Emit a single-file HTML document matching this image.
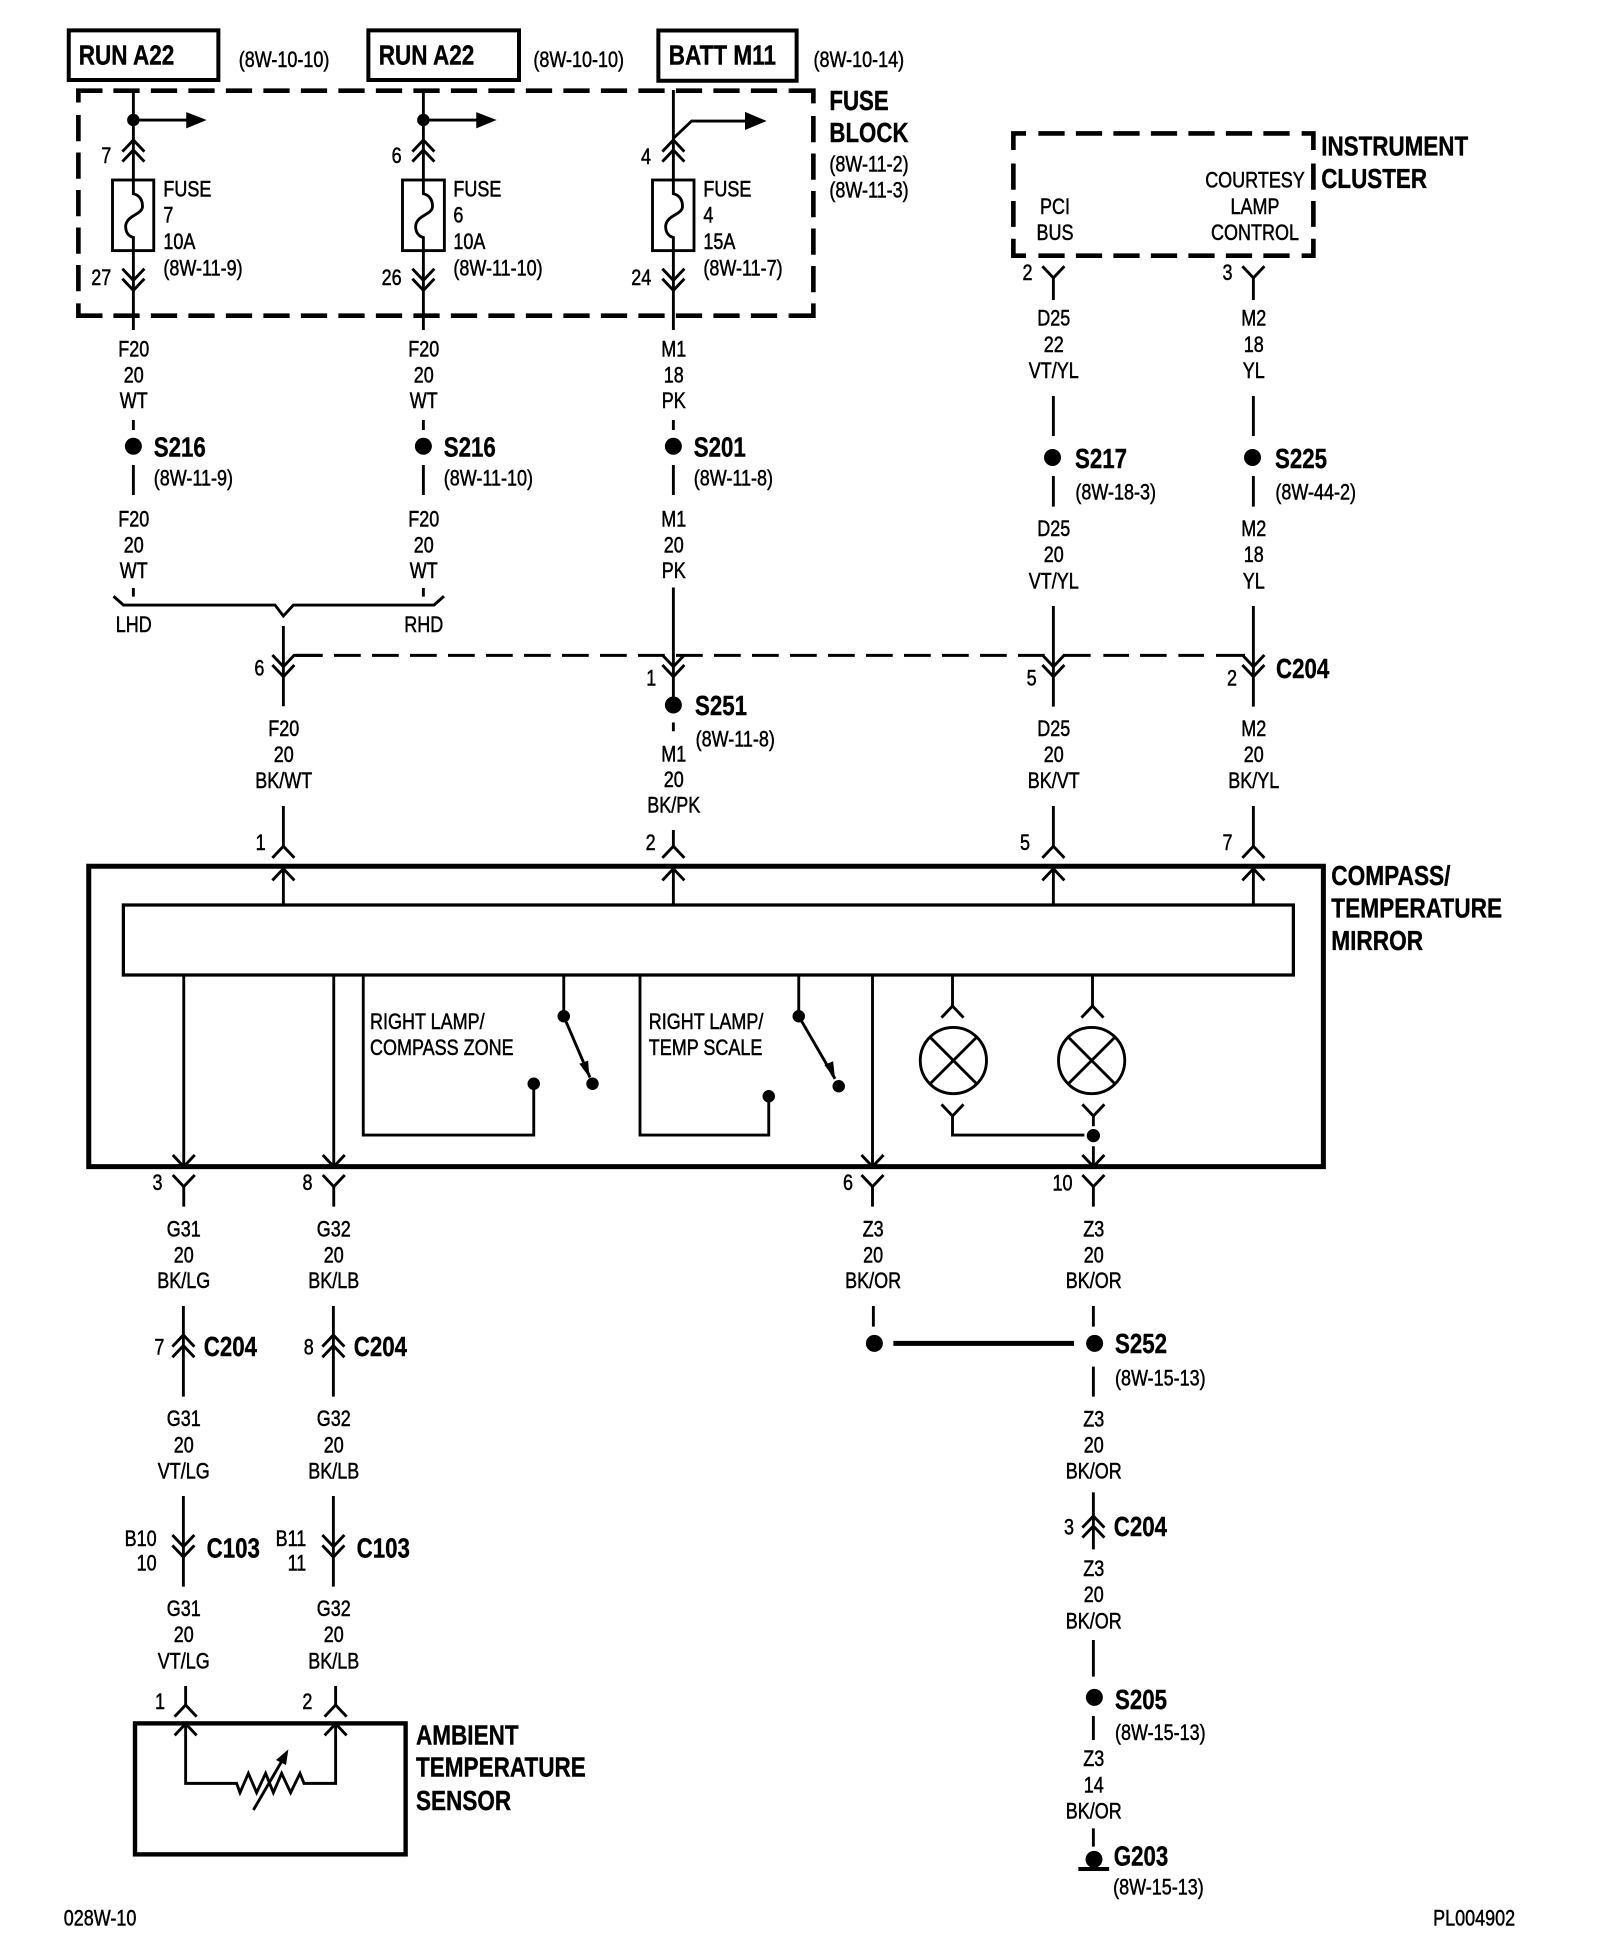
<!DOCTYPE html>
<html>
<head>
<meta charset="utf-8">
<title>Wiring diagram 028W-10</title>
<style>
html,body{margin:0;padding:0;background:#fff;}
svg{display:block;}
text{font-family:"Liberation Sans",Arial,sans-serif;font-size:18px;fill:#000;stroke:#000;stroke-width:.4px;}
.b{font-weight:bold;font-size:22px;stroke-width:.3px;}
.m{text-anchor:middle;}
.e{text-anchor:end;}
.w path,.w use,.w rect,.w circle{fill:none;stroke:#000;stroke-width:2.3;}
.f{fill:#000;stroke:none;}
</style>
</head>
<body>
<svg xmlns="http://www.w3.org/2000/svg" width="1600" height="1960" viewBox="0 0 1280 1568">
<defs>
<path id="u" d="M-8.8 9.3L0 0L8.8 9.3"/>
<path id="d" d="M-8.8 0L0 9.3L8.8 0"/>
</defs>
<rect width="1280" height="1568" fill="#fff"/>
<g class="w">
<!-- source boxes -->
<rect x="55" y="24.3" width="119.7" height="39.7" style="stroke-width:3.2"/>
<rect x="294.7" y="24.3" width="120.5" height="39.7" style="stroke-width:3.2"/>
<rect x="526.7" y="24.4" width="110.6" height="40.2" style="stroke-width:3.2"/>
<!-- fuse block dashed -->
<path style="stroke-width:3.7" d="M62.7 82V72.5H82M631.3 72.5H650.7V82.7M650.7 242.7V252.5H631.3M82 252.5H62.7V242.7"/>
<path style="stroke-width:3.7" stroke-dasharray="21 9" d="M90.7 72.5H631M90.7 252.5H631M62.7 92V242M650.7 92.8V243"/>
<!-- cluster dashed -->
<path style="stroke-width:3.7" d="M820.8 106.7H810.7V120M810.7 191V204.5H820.8M1041.3 106.7H1050.7V120M1050.7 191V204.5H1041.3"/>
<path style="stroke-width:3.7" stroke-dasharray="21 9" d="M830.7 106.7H1032M830.7 204.5H1032M810.7 130.8V181.5M1050.7 130.8V181.5"/>
<!-- fuse columns -->
<path d="M106.7 72V264M338.7 72V264M538.7 72V264"/>
<path d="M106.7 96H150M338.7 96H382M538.7 110.7L553.3 96.8H597"/>
<rect x="90" y="144" width="33" height="56.5" fill="#fff" style="fill:#fff"/>
<rect x="322" y="144" width="33.5" height="56.5" style="fill:#fff"/>
<rect x="522" y="144" width="33.2" height="56.5" style="fill:#fff"/>
<path d="M106.7 144V155C111.5 156 114 160 114 165C114 172 101 172 100.5 181C100.5 186 103 189 106.7 190V200"/>
<path d="M338.7 144V155C343.5 156 346 160 346 165C346 172 333 172 332.5 181C332.5 186 335 189 338.7 190V200"/>
<path d="M538.7 144V155C543.5 156 546 160 546 165C546 172 533 172 532.5 181C532.5 186 535 189 538.7 190V200"/>
<use href="#u" x="106.7" y="112"/><use href="#u" x="106.7" y="120"/>
<use href="#u" x="338.7" y="112"/><use href="#u" x="338.7" y="120"/>
<use href="#u" x="538.7" y="112"/><use href="#u" x="538.7" y="120"/>
<use href="#d" x="106.7" y="215"/><use href="#d" x="106.7" y="223"/>
<use href="#d" x="338.7" y="215"/><use href="#d" x="338.7" y="223"/>
<use href="#d" x="538.7" y="215"/><use href="#d" x="538.7" y="223"/>
<!-- splice wires upper -->
<path d="M106.7 336V344M106.7 372V396M338.7 336V344M338.7 372V396M538.7 336V344M538.7 372V396"/>
<path d="M106.7 470.4V477.3M338.7 470.4V477.3"/>
<path d="M90.8 477L98.7 484H220L226.7 492.8L234.7 484H347.2L355.2 477"/>
<path d="M226.7 500.8V565M538.7 470V565M842.7 484.8V565.3M1002.7 484.8V565.3"/>
<path stroke-dasharray="21.4 9" d="M236.8 524.3H836"/>
<path d="M234.7 524.3H258M850.7 524.3H872.5M882.7 524.3H903.2M912 524.3H933.3M942.7 524.3H963.2M972.8 524.3H996"/>
<use href="#d" x="226.7" y="524"/><use href="#d" x="226.7" y="532"/>
<use href="#d" x="538.7" y="524"/><use href="#d" x="538.7" y="532"/>
<use href="#d" x="842.7" y="524"/><use href="#d" x="842.7" y="532"/>
<use href="#d" x="1002.7" y="524"/><use href="#d" x="1002.7" y="532"/>
<path d="M538.7 578V585"/>
<!-- cluster wires -->
<use href="#d" x="842.7" y="213"/><use href="#d" x="1002.7" y="213"/>
<path d="M842.7 222V240M1002.7 222V240M842.7 316.8V348.8M1002.7 316.8V348.8M842.7 380.8V405.3M1002.7 380.8V405.3"/>
<!-- compass connectors top -->
<path d="M226.7 644.8V677M538.7 664V677M842.7 644.8V677M1002.7 644.8V677"/>
<use href="#u" x="226.7" y="677"/><use href="#u" x="538.7" y="677"/><use href="#u" x="842.7" y="677"/><use href="#u" x="1002.7" y="677"/>
<use href="#u" x="226.7" y="695"/><use href="#u" x="538.7" y="695"/><use href="#u" x="842.7" y="695"/><use href="#u" x="1002.7" y="695"/>
<path d="M226.7 695V724M538.7 695V724M842.7 695V724M1002.7 695V724"/>
<!-- compass box -->
<rect x="71" y="693" width="987.7" height="240.3" style="stroke-width:4"/>
<rect x="98.7" y="724" width="936" height="56" style="stroke-width:2.6"/>
<path d="M147 780V933M267 780V933M698 780V933"/>
<path d="M290.6 780V908H427V867M512 780V908H615V877M451 780V813M639 780V813M451 813L472 862M639 813L668 863"/>
<use href="#d" x="147" y="924"/><use href="#d" x="267" y="924"/><use href="#d" x="698" y="924"/><use href="#d" x="874.7" y="924"/>
<use href="#d" x="147" y="940"/><use href="#d" x="267" y="940"/><use href="#d" x="698" y="940"/><use href="#d" x="874.7" y="940"/>
<path d="M147 949V965.3M267 949V965.3M698 949V965.3M874.7 949V965.3M874.7 917V933"/>
<!-- lamps -->
<path d="M762 780V805M874 780V805M762 893V908H867.5M874.7 893V901"/>
<use href="#u" x="762" y="804.8"/><use href="#u" x="874" y="804.8"/>
<use href="#d" x="762" y="883.5"/><use href="#d" x="874.7" y="883.5"/>
<circle cx="762.7" cy="848.4" r="26.5"/>
<circle cx="873.3" cy="848.4" r="26.5"/>
<path d="M743.7 829.4L781.7 867.4M781.7 829.4L743.7 867.4M854.3 829.4L892.3 867.4M892.3 829.4L854.3 867.4"/>
<!-- lower left -->
<path d="M146.7 1044.8V1117.3M266.7 1044.8V1117.3M146.7 1196.8V1269.3M266.7 1196.8V1269.3"/>
<use href="#u" x="146.7" y="1068"/><use href="#u" x="146.7" y="1076.5"/>
<use href="#u" x="266.7" y="1068"/><use href="#u" x="266.7" y="1076.5"/>
<use href="#d" x="146.7" y="1228"/><use href="#d" x="146.7" y="1236.3"/>
<use href="#d" x="266.7" y="1228"/><use href="#d" x="266.7" y="1236.3"/>
<!-- sensor -->
<path d="M148.5 1348.8V1364M268.5 1348.8V1364"/>
<use href="#u" x="148.5" y="1364"/><use href="#u" x="268.5" y="1364"/>
<use href="#u" x="148.5" y="1379"/><use href="#u" x="268.5" y="1379"/>
<rect x="108" y="1378.7" width="216.5" height="104.8" style="stroke-width:3.5"/>
<path d="M148.5 1379V1426.7H189.3L192 1434.1L198.7 1418.7L205.3 1434.1L212.5 1418.7L218.7 1434.1L225.3 1418.7L232.5 1434.1L240 1418.7L243.2 1426.7H268.5V1379"/>
<path d="M202.7 1448L226 1408"/>
<!-- lower right -->
<path d="M698.7 1044.8V1061.3M874.7 1044.8V1061.3M874.7 1093.3V1117.3M874.7 1193.9V1239.5M874.7 1312V1341.3M874.7 1372.8V1392M874.7 1462.7V1477.3"/>
<path style="stroke-width:4" d="M714.7 1074.7H859.2"/>
<use href="#u" x="874.7" y="1212.8"/><use href="#u" x="874.7" y="1220.8"/>
<path style="stroke-width:3.2" d="M862.7 1495.2H887.3"/>
</g>
<!-- dots and arrowheads -->
<g class="f">
<circle cx="106.7" cy="96" r="5"/><circle cx="338.7" cy="96" r="5"/>
<polygon points="149,89.7 165.3,96 149,102.7"/>
<polygon points="381,89.7 397.3,96 381,102.7"/>
<polygon points="596,89.5 613.3,96.8 596,104"/>
<circle cx="106.7" cy="357" r="6.8"/><circle cx="338.7" cy="357" r="6.8"/><circle cx="538.7" cy="357" r="6.8"/>
<circle cx="842" cy="366" r="6.8"/><circle cx="1002" cy="366" r="6.8"/>
<circle cx="538.7" cy="564" r="6.8"/>
<circle cx="427" cy="867" r="5"/><circle cx="615" cy="877" r="5"/>
<circle cx="451" cy="813" r="5"/><circle cx="474" cy="867" r="5"/>
<circle cx="639" cy="813" r="5"/><circle cx="671" cy="869" r="5"/>
<polygon points="471.5,862 463.5,851 470.5,848.5"/>
<polygon points="668,863 659.5,852 666.5,849"/>
<circle cx="874.7" cy="908.5" r="5.3"/>
<circle cx="699.5" cy="1074.7" r="6.8"/><circle cx="875.7" cy="1074.7" r="6.8"/>
<circle cx="875.5" cy="1357.9" r="6.8"/>
<circle cx="875.2" cy="1487.5" r="6.8"/>
<polygon points="230.7,1399.5 220.8,1408 228.8,1412"/>
</g>
<!-- bold labels -->
<g>
<text class="b" transform="translate(63 51.5) scale(.82 1)">RUN A22</text>
<text class="b" transform="translate(303 51.5) scale(.82 1)">RUN A22</text>
<text class="b" transform="translate(535 51.5) scale(.82 1)">BATT M11</text>
<text class="b" transform="translate(663.5 88) scale(.81 1)">FUSE</text>
<text class="b" transform="translate(663.5 113.5) scale(.81 1)">BLOCK</text>
<text class="b" transform="translate(1057 124.5) scale(.815 1)">INSTRUMENT</text>
<text class="b" transform="translate(1057 150.5) scale(.815 1)">CLUSTER</text>
<text class="b" transform="translate(123 365) scale(.81 1)">S216</text>
<text class="b" transform="translate(355 365) scale(.81 1)">S216</text>
<text class="b" transform="translate(555 365) scale(.81 1)">S201</text>
<text class="b" transform="translate(860 374.5) scale(.81 1)">S217</text>
<text class="b" transform="translate(1020 374.5) scale(.81 1)">S225</text>
<text class="b" transform="translate(1020.8 542.5) scale(.81 1)">C204</text>
<text class="b" transform="translate(556 572) scale(.81 1)">S251</text>
<text class="b" transform="translate(1065 708) scale(.825 1)">COMPASS/</text>
<text class="b" transform="translate(1065 734) scale(.825 1)">TEMPERATURE</text>
<text class="b" transform="translate(1065 760) scale(.825 1)">MIRROR</text>
<text class="b" transform="translate(163 1084.8) scale(.81 1)">C204</text>
<text class="b" transform="translate(283 1084.8) scale(.81 1)">C204</text>
<text class="b" transform="translate(165.3 1246) scale(.81 1)">C103</text>
<text class="b" transform="translate(285.3 1246) scale(.81 1)">C103</text>
<text class="b" transform="translate(892 1082.5) scale(.81 1)">S252</text>
<text class="b" transform="translate(891 1228.8) scale(.81 1)">C204</text>
<text class="b" transform="translate(892 1367.2) scale(.81 1)">S205</text>
<text class="b" transform="translate(891 1492.5) scale(.81 1)">G203</text>
<text class="b" transform="translate(332.8 1395.5) scale(.82 1)">AMBIENT</text>
<text class="b" transform="translate(332.8 1421.3) scale(.82 1)">TEMPERATURE</text>
<text class="b" transform="translate(332.8 1448) scale(.82 1)">SENSOR</text>
</g>
<!-- reference labels -->
<g>
<text transform="translate(191 53.5) scale(.8 1)">(8W-10-10)</text>
<text transform="translate(426.7 53.5) scale(.8 1)">(8W-10-10)</text>
<text transform="translate(650.8 53.5) scale(.8 1)">(8W-10-14)</text>
<text transform="translate(663.5 137) scale(.8 1)">(8W-11-2)</text>
<text transform="translate(663.5 158) scale(.8 1)">(8W-11-3)</text>
<text transform="translate(130.7 157) scale(.8 1)">FUSE</text>
<text transform="translate(130.7 178) scale(.8 1)">7</text>
<text transform="translate(130.7 199) scale(.8 1)">10A</text>
<text transform="translate(130.7 220.5) scale(.8 1)">(8W-11-9)</text>
<text transform="translate(362.7 157) scale(.8 1)">FUSE</text>
<text transform="translate(362.7 178) scale(.8 1)">6</text>
<text transform="translate(362.7 199) scale(.8 1)">10A</text>
<text transform="translate(362.7 220.5) scale(.8 1)">(8W-11-10)</text>
<text transform="translate(562.7 157) scale(.8 1)">FUSE</text>
<text transform="translate(562.7 178) scale(.8 1)">4</text>
<text transform="translate(562.7 199) scale(.8 1)">15A</text>
<text transform="translate(562.7 220.5) scale(.8 1)">(8W-11-7)</text>
<text transform="translate(123 388.5) scale(.8 1)">(8W-11-9)</text>
<text transform="translate(355 388.5) scale(.8 1)">(8W-11-10)</text>
<text transform="translate(555 388.5) scale(.8 1)">(8W-11-8)</text>
<text transform="translate(860.3 399.5) scale(.8 1)">(8W-18-3)</text>
<text transform="translate(1020.3 399.5) scale(.8 1)">(8W-44-2)</text>
<text transform="translate(556.5 597) scale(.8 1)">(8W-11-8)</text>
<text transform="translate(892 1108.5) scale(.8 1)">(8W-15-13)</text>
<text transform="translate(892 1392) scale(.8 1)">(8W-15-13)</text>
<text transform="translate(890.5 1515.5) scale(.8 1)">(8W-15-13)</text>
<text transform="translate(51 1540.5) scale(.8 1)">028W-10</text>
<text transform="translate(1146.5 1540.5) scale(.8 1)">PL004902</text>
<text transform="translate(296 823) scale(.8 1)">RIGHT LAMP/</text>
<text transform="translate(296 844) scale(.8 1)">COMPASS ZONE</text>
<text transform="translate(519 823) scale(.8 1)">RIGHT LAMP/</text>
<text transform="translate(519 844) scale(.8 1)">TEMP SCALE</text>
</g>
<!-- centred labels -->
<g class="m">
<text class="m" transform="translate(844 171) scale(.8 1)">PCI</text>
<text class="m" transform="translate(844 192) scale(.8 1)">BUS</text>
<text class="m" transform="translate(1004 150) scale(.8 1)">COURTESY</text>
<text class="m" transform="translate(1004 171) scale(.8 1)">LAMP</text>
<text class="m" transform="translate(1004 192) scale(.8 1)">CONTROL</text>
<text class="m" transform="translate(85 130.5) scale(.8 1)">7</text>
<text class="m" transform="translate(317.3 130.5) scale(.8 1)">6</text>
<text class="m" transform="translate(516.8 131) scale(.8 1)">4</text>
<text class="m" transform="translate(81 228) scale(.8 1)">27</text>
<text class="m" transform="translate(313.3 228) scale(.8 1)">26</text>
<text class="m" transform="translate(513 228) scale(.8 1)">24</text>
<text class="m" transform="translate(822 224) scale(.8 1)">2</text>
<text class="m" transform="translate(982 224) scale(.8 1)">3</text>

<text class="m" transform="translate(107 285) scale(.8 1)">F20</text>
<text class="m" transform="translate(107 306) scale(.8 1)">20</text>
<text class="m" transform="translate(107 326.5) scale(.8 1)">WT</text>
<text class="m" transform="translate(339 285) scale(.8 1)">F20</text>
<text class="m" transform="translate(339 306) scale(.8 1)">20</text>
<text class="m" transform="translate(339 326.5) scale(.8 1)">WT</text>
<text class="m" transform="translate(539 285) scale(.8 1)">M1</text>
<text class="m" transform="translate(539 306) scale(.8 1)">18</text>
<text class="m" transform="translate(539 326.5) scale(.8 1)">PK</text>

<text class="m" transform="translate(107 421) scale(.8 1)">F20</text>
<text class="m" transform="translate(107 442) scale(.8 1)">20</text>
<text class="m" transform="translate(107 462.5) scale(.8 1)">WT</text>
<text class="m" transform="translate(339 421) scale(.8 1)">F20</text>
<text class="m" transform="translate(339 442) scale(.8 1)">20</text>
<text class="m" transform="translate(339 462.5) scale(.8 1)">WT</text>
<text class="m" transform="translate(539 421) scale(.8 1)">M1</text>
<text class="m" transform="translate(539 442) scale(.8 1)">20</text>
<text class="m" transform="translate(539 462.5) scale(.8 1)">PK</text>
<text class="m" transform="translate(107 505.5) scale(.8 1)">LHD</text>
<text class="m" transform="translate(339 505.5) scale(.8 1)">RHD</text>

<text class="m" transform="translate(843 260.5) scale(.8 1)">D25</text>
<text class="m" transform="translate(843 281.5) scale(.8 1)">22</text>
<text class="m" transform="translate(843 302.5) scale(.8 1)">VT/YL</text>
<text class="m" transform="translate(1003 260.5) scale(.8 1)">M2</text>
<text class="m" transform="translate(1003 281.5) scale(.8 1)">18</text>
<text class="m" transform="translate(1003 302.5) scale(.8 1)">YL</text>
<text class="m" transform="translate(843 428.8) scale(.8 1)">D25</text>
<text class="m" transform="translate(843 449.6) scale(.8 1)">20</text>
<text class="m" transform="translate(843 470.6) scale(.8 1)">VT/YL</text>
<text class="m" transform="translate(1003 428.8) scale(.8 1)">M2</text>
<text class="m" transform="translate(1003 449.6) scale(.8 1)">18</text>
<text class="m" transform="translate(1003 470.6) scale(.8 1)">YL</text>

<text class="m" transform="translate(207.5 540.5) scale(.8 1)">6</text>
<text class="m" transform="translate(521 548.5) scale(.8 1)">1</text>
<text class="m" transform="translate(825.3 548.5) scale(.8 1)">5</text>
<text class="m" transform="translate(985.6 548.5) scale(.8 1)">2</text>

<text class="m" transform="translate(227 588.8) scale(.8 1)">F20</text>
<text class="m" transform="translate(227 609.6) scale(.8 1)">20</text>
<text class="m" transform="translate(227 630.2) scale(.8 1)">BK/WT</text>
<text class="m" transform="translate(539 609) scale(.8 1)">M1</text>
<text class="m" transform="translate(539 629.5) scale(.8 1)">20</text>
<text class="m" transform="translate(539 650) scale(.8 1)">BK/PK</text>
<text class="m" transform="translate(843 588.8) scale(.8 1)">D25</text>
<text class="m" transform="translate(843 609.6) scale(.8 1)">20</text>
<text class="m" transform="translate(843 630.2) scale(.8 1)">BK/VT</text>
<text class="m" transform="translate(1003 588.8) scale(.8 1)">M2</text>
<text class="m" transform="translate(1003 609.6) scale(.8 1)">20</text>
<text class="m" transform="translate(1003 630.2) scale(.8 1)">BK/YL</text>

<text class="m" transform="translate(208.5 680) scale(.8 1)">1</text>
<text class="m" transform="translate(520.5 680) scale(.8 1)">2</text>
<text class="m" transform="translate(820 680) scale(.8 1)">5</text>
<text class="m" transform="translate(982 680) scale(.8 1)">7</text>

<text class="m" transform="translate(126 952) scale(.8 1)">3</text>
<text class="m" transform="translate(246 952) scale(.8 1)">8</text>
<text class="m" transform="translate(678.4 952) scale(.8 1)">6</text>
<text class="m" transform="translate(850 952.5) scale(.8 1)">10</text>

<text class="m" transform="translate(147 989) scale(.8 1)">G31</text>
<text class="m" transform="translate(147 1010) scale(.8 1)">20</text>
<text class="m" transform="translate(147 1030.5) scale(.8 1)">BK/LG</text>
<text class="m" transform="translate(267 989) scale(.8 1)">G32</text>
<text class="m" transform="translate(267 1010) scale(.8 1)">20</text>
<text class="m" transform="translate(267 1030.5) scale(.8 1)">BK/LB</text>
<text class="m" transform="translate(698.5 989) scale(.8 1)">Z3</text>
<text class="m" transform="translate(698.5 1010) scale(.8 1)">20</text>
<text class="m" transform="translate(698.5 1030.5) scale(.8 1)">BK/OR</text>
<text class="m" transform="translate(875 989) scale(.8 1)">Z3</text>
<text class="m" transform="translate(875 1010) scale(.8 1)">20</text>
<text class="m" transform="translate(875 1030.5) scale(.8 1)">BK/OR</text>

<text class="m" transform="translate(127.5 1083.5) scale(.8 1)">7</text>
<text class="m" transform="translate(247 1083.5) scale(.8 1)">8</text>

<text class="m" transform="translate(147 1140.8) scale(.8 1)">G31</text>
<text class="m" transform="translate(147 1162) scale(.8 1)">20</text>
<text class="m" transform="translate(147 1182.7) scale(.8 1)">VT/LG</text>
<text class="m" transform="translate(267 1140.8) scale(.8 1)">G32</text>
<text class="m" transform="translate(267 1162) scale(.8 1)">20</text>
<text class="m" transform="translate(267 1182.7) scale(.8 1)">BK/LB</text>

<text class="e" transform="translate(125.3 1236.8) scale(.8 1)">B10</text>
<text class="e" transform="translate(125.3 1256.5) scale(.8 1)">10</text>
<text class="e" transform="translate(245 1236.8) scale(.8 1)">B11</text>
<text class="e" transform="translate(245 1256.5) scale(.8 1)">11</text>

<text class="m" transform="translate(147 1292.7) scale(.8 1)">G31</text>
<text class="m" transform="translate(147 1313.7) scale(.8 1)">20</text>
<text class="m" transform="translate(147 1334.7) scale(.8 1)">VT/LG</text>
<text class="m" transform="translate(267 1292.7) scale(.8 1)">G32</text>
<text class="m" transform="translate(267 1313.7) scale(.8 1)">20</text>
<text class="m" transform="translate(267 1334.7) scale(.8 1)">BK/LB</text>
<text class="m" transform="translate(128 1367.2) scale(.8 1)">1</text>
<text class="m" transform="translate(245.9 1367.2) scale(.8 1)">2</text>

<text class="m" transform="translate(875 1141) scale(.8 1)">Z3</text>
<text class="m" transform="translate(875 1162) scale(.8 1)">20</text>
<text class="m" transform="translate(875 1182.7) scale(.8 1)">BK/OR</text>
<text class="m" transform="translate(855.2 1227.5) scale(.8 1)">3</text>
<text class="m" transform="translate(875 1260.8) scale(.8 1)">Z3</text>
<text class="m" transform="translate(875 1281.5) scale(.8 1)">20</text>
<text class="m" transform="translate(875 1302.7) scale(.8 1)">BK/OR</text>
<text class="m" transform="translate(875 1412.8) scale(.8 1)">Z3</text>
<text class="m" transform="translate(875 1434) scale(.8 1)">14</text>
<text class="m" transform="translate(875 1454.7) scale(.8 1)">BK/OR</text>
</g>
</svg>
</body>
</html>
